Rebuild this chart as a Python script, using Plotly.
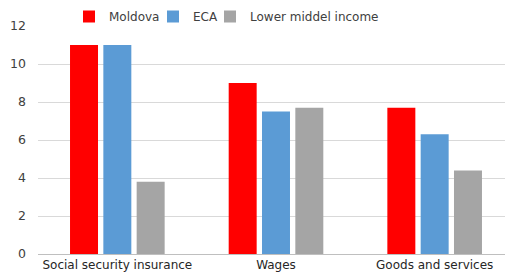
import plotly.graph_objects as go

categories = ["Social security insurance", "Wages", "Goods and services"]
moldova = [11.0, 9.0, 7.7]
eca = [11.0, 7.5, 6.3]
lower_middle = [3.8, 7.7, 4.4]
series_names = ["Moldova", "ECA", "Lower middel income"]
colors = ["#ff0000", "#5b9bd5", "#a5a5a5"]
y_ticks = [0, 2, 4, 6, 8, 10, 12]

W, H = 513, 272
L, R, T, B = 30, 7, 0, 26
PW, PH = W - L - R, H - T - B
plot_top_px = 18  # figure px where the plot area starts
legend_ids = ["legend", "legend2", "legend3"]
legend_text_x = [101, 185, 242]  # figure px where the legend text starts

fig = go.Figure()
for name, vals, c, lid in zip(series_names, [moldova, eca, lower_middle], colors, legend_ids):
    fig.add_trace(go.Bar(x=categories, y=vals, name=name, legend=lid,
                         marker=dict(color=c, line=dict(width=0))))

leg_common = dict(orientation="h", yanchor="top", xanchor="left", y=1 + 6 / PH,
                  font=dict(family="DejaVu Sans", size=12, color="#404040"),
                  itemwidth=30, bgcolor="rgba(0,0,0,0)")
legs = {}
for lid, tx in zip(legend_ids, legend_text_x):
    legs[lid] = dict(leg_common, x=(tx - 40 - L) / PW)

fig.update_layout(
    width=W, height=H,
    margin=dict(l=L, r=R, t=T, b=B, autoexpand=False),
    paper_bgcolor="white", plot_bgcolor="white",
    barmode="group", bargap=0.37, bargroupgap=0.16,
    font=dict(family="DejaVu Sans", size=11, color="#404040"),
    showlegend=True,
    **legs,
)
fig.update_yaxes(range=[0, 12], tickvals=y_ticks, showgrid=True, gridcolor="#d9d9d9",
                 domain=[0, (PH - plot_top_px) / PH], automargin=False,
                 gridwidth=1, zeroline=True, zerolinecolor="#bfbfbf", zerolinewidth=1,
                 ticks="", ticklabelstandoff=11,
                 tickfont=dict(family="DejaVu Sans", size=12.5, color="#404040"),
                 fixedrange=True)
fig.update_xaxes(showgrid=False, ticks="", showline=False, automargin=False,
                 ticklabelstandoff=2,
                 tickfont=dict(family="DejaVu Sans", size=12, color="#262626"))

fig.write_html("out.html")
